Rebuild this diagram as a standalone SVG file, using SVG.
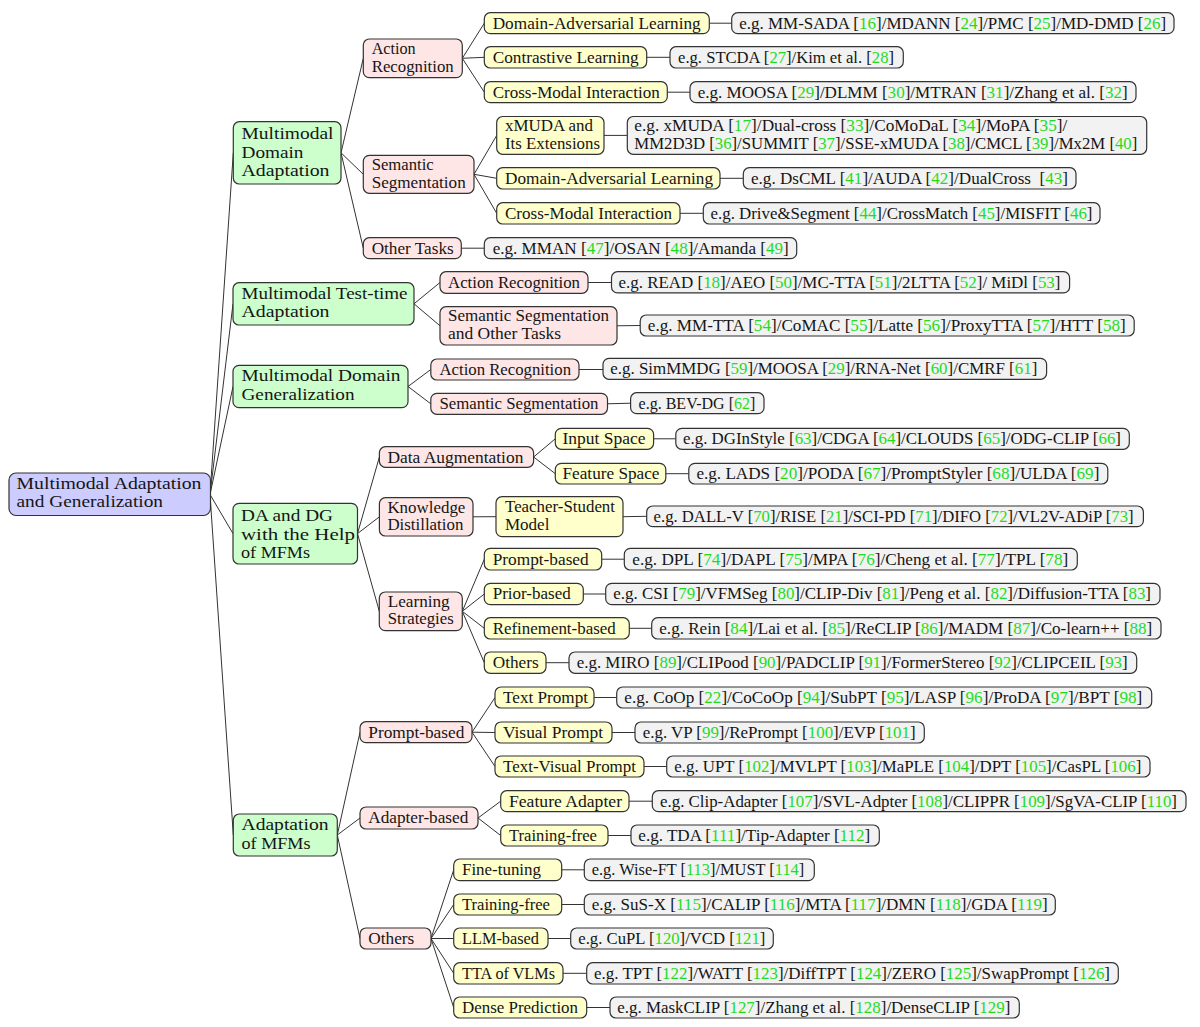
<svg xmlns="http://www.w3.org/2000/svg" width="1200" height="1027" viewBox="0 0 1200 1027">
<style>
rect{stroke:#333333;stroke-width:1.2;}
.r{fill:#ccccff;}
.g{fill:#ccffcc;}
.p{fill:#ffe6e6;}
.y{fill:#ffffcc;}
.e{fill:#f2f2f2;}
text{font-family:"Liberation Serif","DejaVu Serif",serif;font-size:17px;fill:#151515;}
.c{fill:#1fdc1f;}
#connectors line{stroke:#333;stroke-width:1;}
</style>
<rect x="0" y="0" width="1200" height="1027" fill="#ffffff" style="stroke:none"/>
<g id="connectors">
<line x1="210" y1="494.5" x2="233.3" y2="152.8"/>
<line x1="210" y1="494.5" x2="233" y2="303.8"/>
<line x1="210" y1="494.5" x2="233" y2="386.5"/>
<line x1="210" y1="494.5" x2="233" y2="533.6"/>
<line x1="210" y1="494.5" x2="233.3" y2="835"/>
<line x1="341" y1="152.8" x2="363.3" y2="58.3"/>
<line x1="341" y1="152.8" x2="363.3" y2="174.3"/>
<line x1="341" y1="152.8" x2="363.3" y2="248.2"/>
<line x1="462.3" y1="58.3" x2="484.3" y2="23.2"/>
<line x1="462.3" y1="58.3" x2="484.3" y2="57.3"/>
<line x1="462.3" y1="58.3" x2="484.3" y2="92.2"/>
<line x1="709.3" y1="23.2" x2="731.7" y2="23.2"/>
<line x1="646.7" y1="57.3" x2="670" y2="57.3"/>
<line x1="667.3" y1="92.2" x2="690" y2="92.2"/>
<line x1="474" y1="174.3" x2="496.7" y2="135.4"/>
<line x1="474" y1="174.3" x2="496.7" y2="178.3"/>
<line x1="474" y1="174.3" x2="496.7" y2="213.3"/>
<line x1="604" y1="135.4" x2="627.3" y2="135.4"/>
<line x1="720" y1="178.3" x2="743.3" y2="178.3"/>
<line x1="680" y1="213.3" x2="703.3" y2="213.3"/>
<line x1="461.3" y1="248.2" x2="484.3" y2="248.2"/>
<line x1="414" y1="303.8" x2="440" y2="282.5"/>
<line x1="414" y1="303.8" x2="440" y2="325.8"/>
<line x1="588" y1="282.5" x2="611.5" y2="282.5"/>
<line x1="617" y1="325.8" x2="640.2" y2="325.5"/>
<line x1="408" y1="386.5" x2="430.8" y2="369.5"/>
<line x1="408" y1="386.5" x2="430.8" y2="403.8"/>
<line x1="579" y1="369.5" x2="603" y2="369.5"/>
<line x1="607.5" y1="403.8" x2="630.6" y2="403.2"/>
<line x1="357.5" y1="533.6" x2="379.4" y2="457"/>
<line x1="357.5" y1="533.6" x2="379.4" y2="516.8"/>
<line x1="357.5" y1="533.6" x2="379.3" y2="611.3"/>
<line x1="533.6" y1="457" x2="555.3" y2="438.8"/>
<line x1="533.6" y1="457" x2="555.3" y2="473.7"/>
<line x1="653.6" y1="438.8" x2="675.8" y2="438.8"/>
<line x1="665.8" y1="473.7" x2="688.8" y2="473.7"/>
<line x1="473" y1="516.8" x2="496" y2="516.7"/>
<line x1="623" y1="516.7" x2="646.7" y2="516.3"/>
<line x1="462.3" y1="611.3" x2="484.3" y2="559.2"/>
<line x1="462.3" y1="611.3" x2="484.3" y2="594"/>
<line x1="462.3" y1="611.3" x2="484.3" y2="628.3"/>
<line x1="462.3" y1="611.3" x2="484.3" y2="662.7"/>
<line x1="601.7" y1="559.2" x2="624.3" y2="559.2"/>
<line x1="583.3" y1="594" x2="605.7" y2="594"/>
<line x1="629.3" y1="628.3" x2="651.7" y2="628.3"/>
<line x1="546" y1="662.7" x2="569" y2="662.7"/>
<line x1="337.3" y1="835" x2="360" y2="732.2"/>
<line x1="337.3" y1="835" x2="360" y2="818"/>
<line x1="337.3" y1="835" x2="360" y2="938.5"/>
<line x1="472" y1="732.2" x2="495" y2="697.5"/>
<line x1="472" y1="732.2" x2="495" y2="732.5"/>
<line x1="472" y1="732.2" x2="495" y2="766.5"/>
<line x1="594" y1="697.5" x2="616.7" y2="697.5"/>
<line x1="612" y1="732.5" x2="635" y2="732.5"/>
<line x1="644" y1="766.5" x2="666.7" y2="766.5"/>
<line x1="478" y1="818" x2="500.7" y2="801.2"/>
<line x1="478" y1="818" x2="500.7" y2="835.5"/>
<line x1="629" y1="801.2" x2="652.3" y2="801.2"/>
<line x1="608" y1="835.5" x2="631" y2="835.5"/>
<line x1="431" y1="938.5" x2="453.7" y2="869.8"/>
<line x1="431" y1="938.5" x2="453.7" y2="904.5"/>
<line x1="431" y1="938.5" x2="453.7" y2="938.5"/>
<line x1="431" y1="938.5" x2="453.7" y2="973.3"/>
<line x1="431" y1="938.5" x2="453.7" y2="1007.5"/>
<line x1="561.7" y1="869.8" x2="584.3" y2="869.8"/>
<line x1="561.7" y1="904.5" x2="584.3" y2="904.5"/>
<line x1="548" y1="938.5" x2="570.7" y2="938.5"/>
<line x1="563" y1="973.3" x2="586.7" y2="973.3"/>
<line x1="586.7" y1="1007.5" x2="610" y2="1007.5"/>
</g>

<!-- root -->
<g id="n-root"><rect class="r" x="9" y="473" width="201.5" height="42.5" rx="7"/>
<text x="16.5" y="488.8" textLength="185" lengthAdjust="spacingAndGlyphs">Multimodal Adaptation</text>
<text x="16.5" y="507.2" textLength="146.5" lengthAdjust="spacingAndGlyphs">and Generalization</text></g>

<!-- level 1 -->
<g id="n-mda"><rect class="g" x="233.3" y="121.7" width="107.7" height="62.3" rx="6"/>
<text x="241.5" y="139" textLength="92" lengthAdjust="spacingAndGlyphs">Multimodal</text>
<text x="241.5" y="157.5" textLength="62" lengthAdjust="spacingAndGlyphs">Domain</text>
<text x="241.5" y="176" textLength="88" lengthAdjust="spacingAndGlyphs">Adaptation</text></g>
<g id="n-mtta"><rect class="g" x="233" y="282.7" width="181" height="42.3" rx="6"/>
<text x="241.5" y="298.5" textLength="166" lengthAdjust="spacingAndGlyphs">Multimodal Test-time</text>
<text x="241.5" y="316.5" textLength="88" lengthAdjust="spacingAndGlyphs">Adaptation</text></g>
<g id="n-mdg"><rect class="g" x="233" y="365.3" width="175" height="42.4" rx="6"/>
<text x="241.5" y="381" textLength="159" lengthAdjust="spacingAndGlyphs">Multimodal Domain</text>
<text x="241.5" y="400" textLength="113" lengthAdjust="spacingAndGlyphs">Generalization</text></g>
<g id="n-dadg"><rect class="g" x="233" y="503.3" width="124.5" height="60.7" rx="6"/>
<text x="241" y="520.5" textLength="92" lengthAdjust="spacingAndGlyphs">DA and DG</text>
<text x="241" y="539.5" textLength="114" lengthAdjust="spacingAndGlyphs">with the Help</text>
<text x="241" y="558" textLength="69" lengthAdjust="spacingAndGlyphs">of MFMs</text></g>
<g id="n-amfm"><rect class="g" x="233.3" y="814" width="104" height="42" rx="6"/>
<text x="241.5" y="830" textLength="87" lengthAdjust="spacingAndGlyphs">Adaptation</text>
<text x="241.5" y="849" textLength="69" lengthAdjust="spacingAndGlyphs">of MFMs</text></g>

<!-- level 2 -->
<g id="n-mda-ar"><rect class="p" x="363.3" y="39" width="99" height="38.7" rx="6"/>
<text x="371.7" y="54" textLength="44" lengthAdjust="spacingAndGlyphs">Action</text>
<text x="371.7" y="71.5" textLength="82" lengthAdjust="spacingAndGlyphs">Recognition</text></g>
<g id="n-mda-ss"><rect class="p" x="363.3" y="155.3" width="110.7" height="38" rx="6"/>
<text x="371.7" y="170" textLength="62" lengthAdjust="spacingAndGlyphs">Semantic</text>
<text x="371.7" y="188" textLength="94" lengthAdjust="spacingAndGlyphs">Segmentation</text></g>
<g id="n-mda-ot"><rect class="p" x="363.3" y="237.7" width="98" height="21" rx="6"/>
<text x="371.7" y="253.5" textLength="82" lengthAdjust="spacingAndGlyphs">Other Tasks</text></g>
<g id="n-mtta-ar"><rect class="p" x="440" y="271.7" width="148" height="21.6" rx="6"/>
<text x="448" y="287.8" textLength="132" lengthAdjust="spacingAndGlyphs">Action Recognition</text></g>
<g id="n-mtta-ss"><rect class="p" x="440" y="306.7" width="177" height="38.3" rx="6"/>
<text x="448" y="321" textLength="161" lengthAdjust="spacingAndGlyphs">Semantic Segmentation</text>
<text x="448" y="338.5" textLength="113" lengthAdjust="spacingAndGlyphs">and Other Tasks</text></g>
<g id="n-mdg-ar"><rect class="p" x="430.8" y="359" width="148.2" height="21" rx="6"/>
<text x="439.5" y="375" textLength="131.5" lengthAdjust="spacingAndGlyphs">Action Recognition</text></g>
<g id="n-mdg-ss"><rect class="p" x="430.8" y="393.3" width="176.7" height="21" rx="6"/>
<text x="439.5" y="409.3" textLength="159" lengthAdjust="spacingAndGlyphs">Semantic Segmentation</text></g>
<g id="n-da"><rect class="p" x="379.4" y="446.7" width="154.2" height="20.6" rx="6"/>
<text x="387.4" y="462.5" textLength="136" lengthAdjust="spacingAndGlyphs">Data Augmentation</text></g>
<g id="n-kd"><rect class="p" x="379.4" y="497.7" width="93.6" height="38.3" rx="6"/>
<text x="387.4" y="513" textLength="78" lengthAdjust="spacingAndGlyphs">Knowledge</text>
<text x="387.4" y="530" textLength="76" lengthAdjust="spacingAndGlyphs">Distillation</text></g>
<g id="n-ls"><rect class="p" x="379.3" y="592" width="83" height="38.7" rx="6"/>
<text x="387.7" y="607" textLength="62" lengthAdjust="spacingAndGlyphs">Learning</text>
<text x="387.7" y="624" textLength="66" lengthAdjust="spacingAndGlyphs">Strategies</text></g>
<g id="n-pb"><rect class="p" x="360" y="721.7" width="112" height="21" rx="6"/>
<text x="368.3" y="737.5" textLength="96" lengthAdjust="spacingAndGlyphs">Prompt-based</text></g>
<g id="n-ab"><rect class="p" x="360" y="807" width="118" height="22" rx="6"/>
<text x="368.3" y="823" textLength="100" lengthAdjust="spacingAndGlyphs">Adapter-based</text></g>
<g id="n-oth"><rect class="p" x="360" y="928" width="71" height="21" rx="6"/>
<text x="368.3" y="944" textLength="46" lengthAdjust="spacingAndGlyphs">Others</text></g>

<!-- level 3 -->
<g id="n-dal"><rect class="y" x="484.3" y="12.7" width="225" height="21" rx="6"/>
<text x="492.7" y="28.5" textLength="208" lengthAdjust="spacingAndGlyphs">Domain-Adversarial Learning</text></g>
<g id="n-cl"><rect class="y" x="484.3" y="46.7" width="162.4" height="21.3" rx="6"/>
<text x="492.7" y="62.8" textLength="146" lengthAdjust="spacingAndGlyphs">Contrastive Learning</text></g>
<g id="n-cmi"><rect class="y" x="484.3" y="81.7" width="183" height="21" rx="6"/>
<text x="492.7" y="97.5" textLength="167" lengthAdjust="spacingAndGlyphs">Cross-Modal Interaction</text></g>
<g id="n-xmuda"><rect class="y" x="496.7" y="116.5" width="107.3" height="37.8" rx="6"/>
<text x="505" y="131" textLength="88" lengthAdjust="spacingAndGlyphs">xMUDA and</text>
<text x="505" y="148.5" textLength="95" lengthAdjust="spacingAndGlyphs">Its Extensions</text></g>
<g id="n-dal2"><rect class="y" x="496.7" y="167.7" width="223.3" height="21.3" rx="6"/>
<text x="505" y="183.8" textLength="208" lengthAdjust="spacingAndGlyphs">Domain-Adversarial Learning</text></g>
<g id="n-cmi2"><rect class="y" x="496.7" y="202.7" width="183.3" height="21.3" rx="6"/>
<text x="505" y="218.8" textLength="167" lengthAdjust="spacingAndGlyphs">Cross-Modal Interaction</text></g>
<g id="n-is"><rect class="y" x="555.3" y="428.3" width="98.3" height="21" rx="6"/>
<text x="562.5" y="444.2" textLength="83" lengthAdjust="spacingAndGlyphs">Input Space</text></g>
<g id="n-fs"><rect class="y" x="555.3" y="463.3" width="110.5" height="20.7" rx="6"/>
<text x="562.5" y="479" textLength="97" lengthAdjust="spacingAndGlyphs">Feature Space</text></g>
<g id="n-ts"><rect class="y" x="496" y="496.7" width="127" height="40" rx="6"/>
<text x="505" y="512" textLength="110" lengthAdjust="spacingAndGlyphs">Teacher-Student</text>
<text x="505" y="530">Model</text></g>
<g id="n-lpb"><rect class="y" x="484.3" y="548.3" width="117.4" height="21.7" rx="6"/>
<text x="492.7" y="564.5" textLength="96" lengthAdjust="spacingAndGlyphs">Prompt-based</text></g>
<g id="n-lpr"><rect class="y" x="484.3" y="583.3" width="99" height="21.4" rx="6"/>
<text x="492.7" y="599.4" textLength="78" lengthAdjust="spacingAndGlyphs">Prior-based</text></g>
<g id="n-lrb"><rect class="y" x="484.3" y="617.7" width="145" height="21.3" rx="6"/>
<text x="492.7" y="633.8" textLength="123" lengthAdjust="spacingAndGlyphs">Refinement-based</text></g>
<g id="n-lot"><rect class="y" x="484.3" y="652" width="61.7" height="21.3" rx="6"/>
<text x="492.7" y="668" textLength="46" lengthAdjust="spacingAndGlyphs">Others</text></g>
<g id="n-tp"><rect class="y" x="495" y="687" width="99" height="21" rx="6"/>
<text x="503" y="702.8" textLength="85" lengthAdjust="spacingAndGlyphs">Text Prompt</text></g>
<g id="n-vp"><rect class="y" x="495" y="722" width="117" height="21" rx="6"/>
<text x="503" y="737.8" textLength="100" lengthAdjust="spacingAndGlyphs">Visual Prompt</text></g>
<g id="n-tvp"><rect class="y" x="495" y="756" width="149" height="21" rx="6"/>
<text x="503" y="771.8" textLength="133" lengthAdjust="spacingAndGlyphs">Text-Visual Prompt</text></g>
<g id="n-fa"><rect class="y" x="500.7" y="790.7" width="128.3" height="21" rx="6"/>
<text x="509" y="806.5" textLength="113" lengthAdjust="spacingAndGlyphs">Feature Adapter</text></g>
<g id="n-tf"><rect class="y" x="500.7" y="825" width="107.3" height="21" rx="6"/>
<text x="509" y="840.8" textLength="88" lengthAdjust="spacingAndGlyphs">Training-free</text></g>
<g id="n-ft"><rect class="y" x="453.7" y="859" width="108" height="21.7" rx="6"/>
<text x="462" y="875.2" textLength="79" lengthAdjust="spacingAndGlyphs">Fine-tuning</text></g>
<g id="n-tf2"><rect class="y" x="453.7" y="894" width="108" height="21" rx="6"/>
<text x="462" y="909.8" textLength="88" lengthAdjust="spacingAndGlyphs">Training-free</text></g>
<g id="n-llm"><rect class="y" x="453.7" y="928" width="94.3" height="21" rx="6"/>
<text x="462" y="943.8" textLength="77" lengthAdjust="spacingAndGlyphs">LLM-based</text></g>
<g id="n-tta"><rect class="y" x="453.7" y="962.7" width="109.3" height="21.3" rx="6"/>
<text x="462" y="978.7" textLength="93" lengthAdjust="spacingAndGlyphs">TTA of VLMs</text></g>
<g id="n-dp"><rect class="y" x="453.7" y="997" width="133" height="21" rx="6"/>
<text x="462" y="1012.8" textLength="116" lengthAdjust="spacingAndGlyphs">Dense Prediction</text></g>

<!-- examples -->
<g id="e1"><rect class="e" x="731.7" y="12.7" width="442.3" height="21" rx="6"/>
<text x="739.2" y="28.5" textLength="427" lengthAdjust="spacingAndGlyphs">e.g. MM-SADA [<tspan class="c">16</tspan>]/MDANN [<tspan class="c">24</tspan>]/PMC [<tspan class="c">25</tspan>]/MD-DMD [<tspan class="c">26</tspan>]</text></g>
<g id="e2"><rect class="e" x="670" y="46.7" width="233.3" height="21.3" rx="6"/>
<text x="678" y="62.8" textLength="216" lengthAdjust="spacingAndGlyphs">e.g. STCDA [<tspan class="c">27</tspan>]/Kim et al. [<tspan class="c">28</tspan>]</text></g>
<g id="e3"><rect class="e" x="690" y="81.7" width="446" height="21" rx="6"/>
<text x="697.7" y="97.5" textLength="430" lengthAdjust="spacingAndGlyphs">e.g. MOOSA [<tspan class="c">29</tspan>]/DLMM [<tspan class="c">30</tspan>]/MTRAN [<tspan class="c">31</tspan>]/Zhang et al. [<tspan class="c">32</tspan>]</text></g>
<g id="e4"><rect class="e" x="627.3" y="116.5" width="519.4" height="37.8" rx="6"/>
<text x="634.3" y="131" textLength="433" lengthAdjust="spacingAndGlyphs">e.g. xMUDA [<tspan class="c">17</tspan>]/Dual-cross [<tspan class="c">33</tspan>]/CoMoDaL [<tspan class="c">34</tspan>]/MoPA [<tspan class="c">35</tspan>]/</text>
<text x="634.3" y="148.5" textLength="503" lengthAdjust="spacingAndGlyphs">MM2D3D [<tspan class="c">36</tspan>]/SUMMIT [<tspan class="c">37</tspan>]/SSE-xMUDA [<tspan class="c">38</tspan>]/CMCL [<tspan class="c">39</tspan>]/Mx2M [<tspan class="c">40</tspan>]</text></g>
<g id="e5"><rect class="e" x="743.3" y="167.7" width="332.7" height="21.3" rx="6"/>
<text x="751" y="183.8" textLength="317" lengthAdjust="spacingAndGlyphs">e.g. DsCML [<tspan class="c">41</tspan>]/AUDA [<tspan class="c">42</tspan>]/DualCross&#160; [<tspan class="c">43</tspan>]</text></g>
<g id="e6"><rect class="e" x="703.3" y="202.7" width="396.7" height="21.3" rx="6"/>
<text x="710.5" y="218.8" textLength="382" lengthAdjust="spacingAndGlyphs">e.g. Drive&amp;Segment [<tspan class="c">44</tspan>]/CrossMatch [<tspan class="c">45</tspan>]/MISFIT [<tspan class="c">46</tspan>]</text></g>
<g id="e7"><rect class="e" x="484.3" y="237.7" width="312.4" height="21" rx="6"/>
<text x="492.7" y="253.5" textLength="296" lengthAdjust="spacingAndGlyphs">e.g. MMAN [<tspan class="c">47</tspan>]/OSAN [<tspan class="c">48</tspan>]/Amanda [<tspan class="c">49</tspan>]</text></g>
<g id="e8"><rect class="e" x="611.5" y="271.7" width="458.1" height="21.2" rx="6"/>
<text x="618.5" y="287.8" textLength="442" lengthAdjust="spacingAndGlyphs">e.g. READ [<tspan class="c">18</tspan>]/AEO [<tspan class="c">50</tspan>]/MC-TTA [<tspan class="c">51</tspan>]/2LTTA [<tspan class="c">52</tspan>]/ MiDl [<tspan class="c">53</tspan>]</text></g>
<g id="e9"><rect class="e" x="640.2" y="315" width="494" height="21" rx="6"/>
<text x="647.8" y="330.8" textLength="478" lengthAdjust="spacingAndGlyphs">e.g. MM-TTA [<tspan class="c">54</tspan>]/CoMAC [<tspan class="c">55</tspan>]/Latte [<tspan class="c">56</tspan>]/ProxyTTA [<tspan class="c">57</tspan>]/HTT [<tspan class="c">58</tspan>]</text></g>
<g id="e10"><rect class="e" x="603" y="358.3" width="443.6" height="21" rx="6"/>
<text x="610.3" y="374.2" textLength="427" lengthAdjust="spacingAndGlyphs">e.g. SimMMDG [<tspan class="c">59</tspan>]/MOOSA [<tspan class="c">29</tspan>]/RNA-Net [<tspan class="c">60</tspan>]/CMRF [<tspan class="c">61</tspan>]</text></g>
<g id="e11"><rect class="e" x="630.6" y="392.7" width="133.4" height="21" rx="6"/>
<text x="638.6" y="408.5" style="font-size:16px">e.g. BEV-DG [<tspan class="c">62</tspan>]</text></g>
<g id="e12"><rect class="e" x="675.8" y="428.3" width="453.5" height="21" rx="6"/>
<text x="683" y="444.2" textLength="438" lengthAdjust="spacingAndGlyphs">e.g. DGInStyle [<tspan class="c">63</tspan>]/CDGA [<tspan class="c">64</tspan>]/CLOUDS [<tspan class="c">65</tspan>]/ODG-CLIP [<tspan class="c">66</tspan>]</text></g>
<g id="e13"><rect class="e" x="688.8" y="463.3" width="419" height="20.7" rx="6"/>
<text x="696.4" y="479" textLength="403" lengthAdjust="spacingAndGlyphs">e.g. LADS [<tspan class="c">20</tspan>]/PODA [<tspan class="c">67</tspan>]/PromptStyler [<tspan class="c">68</tspan>]/ULDA [<tspan class="c">69</tspan>]</text></g>
<g id="e14"><rect class="e" x="646.7" y="506" width="496.7" height="20.7" rx="6"/>
<text x="653.6" y="521.8" textLength="480" lengthAdjust="spacingAndGlyphs">e.g. DALL-V [<tspan class="c">70</tspan>]/RISE [<tspan class="c">21</tspan>]/SCI-PD [<tspan class="c">71</tspan>]/DIFO [<tspan class="c">72</tspan>]/VL2V-ADiP [<tspan class="c">73</tspan>]</text></g>
<g id="e15"><rect class="e" x="624.3" y="548.3" width="453" height="21.7" rx="6"/>
<text x="632.3" y="564.5" textLength="436" lengthAdjust="spacingAndGlyphs">e.g. DPL [<tspan class="c">74</tspan>]/DAPL [<tspan class="c">75</tspan>]/MPA [<tspan class="c">76</tspan>]/Cheng et al. [<tspan class="c">77</tspan>]/TPL [<tspan class="c">78</tspan>]</text></g>
<g id="e16"><rect class="e" x="605.7" y="583.3" width="554.3" height="21.4" rx="6"/>
<text x="613.3" y="599.4" textLength="537.7" lengthAdjust="spacingAndGlyphs">e.g. CSI [<tspan class="c">79</tspan>]/VFMSeg [<tspan class="c">80</tspan>]/CLIP-Div [<tspan class="c">81</tspan>]/Peng et al. [<tspan class="c">82</tspan>]/Diffusion-TTA [<tspan class="c">83</tspan>]</text></g>
<g id="e17"><rect class="e" x="651.7" y="617.7" width="509.3" height="21.3" rx="6"/>
<text x="659.3" y="633.8" textLength="493" lengthAdjust="spacingAndGlyphs">e.g. Rein [<tspan class="c">84</tspan>]/Lai et al. [<tspan class="c">85</tspan>]/ReCLIP [<tspan class="c">86</tspan>]/MADM [<tspan class="c">87</tspan>]/Co-learn++ [<tspan class="c">88</tspan>]</text></g>
<g id="e18"><rect class="e" x="569" y="652" width="567.7" height="21.3" rx="6"/>
<text x="576.7" y="668" textLength="551" lengthAdjust="spacingAndGlyphs">e.g. MIRO [<tspan class="c">89</tspan>]/CLIPood [<tspan class="c">90</tspan>]/PADCLIP [<tspan class="c">91</tspan>]/FormerStereo [<tspan class="c">92</tspan>]/CLIPCEIL [<tspan class="c">93</tspan>]</text></g>
<g id="e19"><rect class="e" x="616.7" y="687" width="535" height="21" rx="6"/>
<text x="624.3" y="702.8" textLength="518" lengthAdjust="spacingAndGlyphs">e.g. CoOp [<tspan class="c">22</tspan>]/CoCoOp [<tspan class="c">94</tspan>]/SubPT [<tspan class="c">95</tspan>]/LASP [<tspan class="c">96</tspan>]/ProDA [<tspan class="c">97</tspan>]/BPT [<tspan class="c">98</tspan>]</text></g>
<g id="e20"><rect class="e" x="635" y="722" width="289.3" height="21" rx="6"/>
<text x="642.7" y="737.8" textLength="273" lengthAdjust="spacingAndGlyphs">e.g. VP [<tspan class="c">99</tspan>]/RePrompt [<tspan class="c">100</tspan>]/EVP [<tspan class="c">101</tspan>]</text></g>
<g id="e21"><rect class="e" x="666.7" y="756" width="483.3" height="21" rx="6"/>
<text x="674.3" y="771.8" textLength="467" lengthAdjust="spacingAndGlyphs">e.g. UPT [<tspan class="c">102</tspan>]/MVLPT [<tspan class="c">103</tspan>]/MaPLE [<tspan class="c">104</tspan>]/DPT [<tspan class="c">105</tspan>]/CasPL [<tspan class="c">106</tspan>]</text></g>
<g id="e22"><rect class="e" x="652.3" y="790.7" width="533.7" height="21" rx="6"/>
<text x="660" y="806.5" textLength="517" lengthAdjust="spacingAndGlyphs">e.g. Clip-Adapter [<tspan class="c">107</tspan>]/SVL-Adpter [<tspan class="c">108</tspan>]/CLIPPR [<tspan class="c">109</tspan>]/SgVA-CLIP [<tspan class="c">110</tspan>]</text></g>
<g id="e23"><rect class="e" x="631" y="825" width="248.3" height="21" rx="6"/>
<text x="638.3" y="840.8" textLength="232" lengthAdjust="spacingAndGlyphs">e.g. TDA [<tspan class="c">111</tspan>]/Tip-Adapter [<tspan class="c">112</tspan>]</text></g>
<g id="e24"><rect class="e" x="584.3" y="859" width="230" height="21.7" rx="6"/>
<text x="591.7" y="875.2" style="font-size:16.4px">e.g. Wise-FT [<tspan class="c">113</tspan>]/MUST [<tspan class="c">114</tspan>]</text></g>
<g id="e25"><rect class="e" x="584.3" y="894" width="471" height="21" rx="6"/>
<text x="591.7" y="909.8" textLength="456" lengthAdjust="spacingAndGlyphs">e.g. SuS-X [<tspan class="c">115</tspan>]/CALIP [<tspan class="c">116</tspan>]/MTA [<tspan class="c">117</tspan>]/DMN [<tspan class="c">118</tspan>]/GDA [<tspan class="c">119</tspan>]</text></g>
<g id="e26"><rect class="e" x="570.7" y="928" width="202.6" height="21" rx="6"/>
<text x="578.3" y="943.8" textLength="187" lengthAdjust="spacingAndGlyphs">e.g. CuPL [<tspan class="c">120</tspan>]/VCD [<tspan class="c">121</tspan>]</text></g>
<g id="e27"><rect class="e" x="586.7" y="962.7" width="531.6" height="21.3" rx="6"/>
<text x="594" y="978.7" textLength="516" lengthAdjust="spacingAndGlyphs">e.g. TPT [<tspan class="c">122</tspan>]/WATT [<tspan class="c">123</tspan>]/DiffTPT [<tspan class="c">124</tspan>]/ZERO [<tspan class="c">125</tspan>]/SwapPrompt [<tspan class="c">126</tspan>]</text></g>
<g id="e28"><rect class="e" x="610" y="997" width="409.3" height="21" rx="6"/>
<text x="617.3" y="1012.8" textLength="393" lengthAdjust="spacingAndGlyphs">e.g. MaskCLIP [<tspan class="c">127</tspan>]/Zhang et al. [<tspan class="c">128</tspan>]/DenseCLIP [<tspan class="c">129</tspan>]</text></g>
</svg>
